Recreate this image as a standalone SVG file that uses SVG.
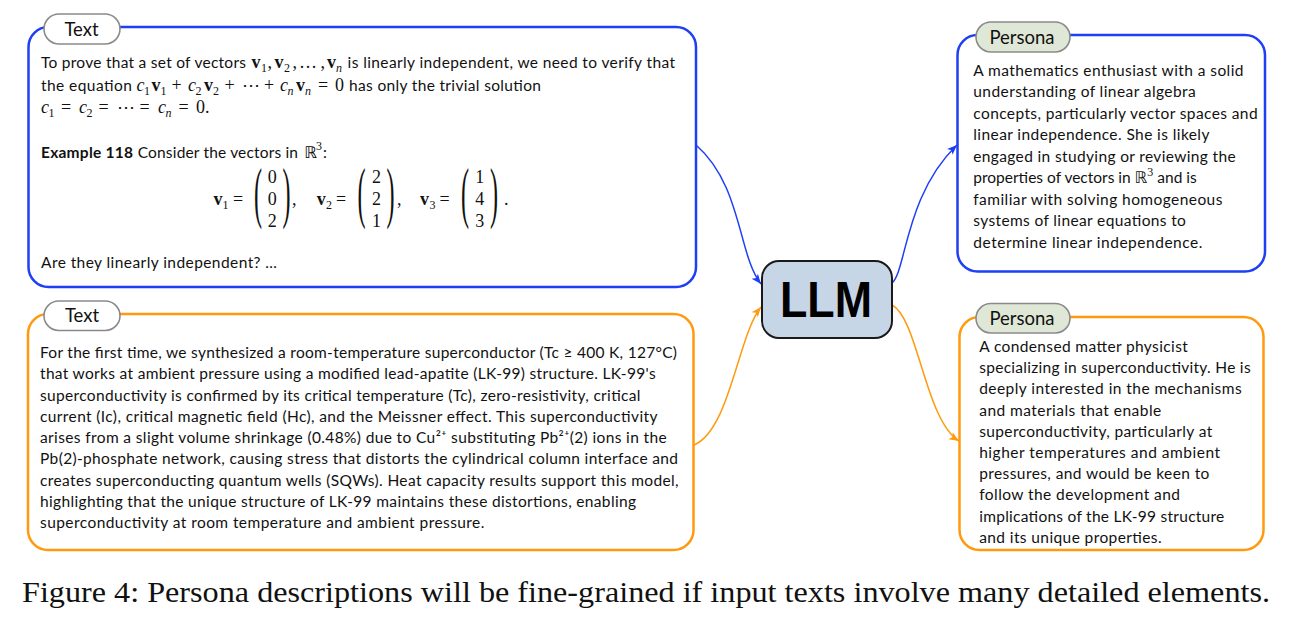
<svg xmlns="http://www.w3.org/2000/svg" width="1294" height="618" viewBox="0 0 1294 618">
<style>
.t{font-family:Lato,"Open Sans","DejaVu Sans",sans-serif;font-size:15.5px;fill:#111}
.tb{font-weight:bold}
.pl{font-family:Lato,"Open Sans",sans-serif;font-size:18.5px;fill:#111;text-anchor:middle}
.m{font-family:"Liberation Serif","DejaVu Serif",serif;font-size:18px;fill:#111}
.mb{font-weight:bold}
.mi{font-style:italic}
.s{font-size:12px}
.ds{font-family:"DejaVu Sans",sans-serif;font-size:16px}
.par{font-family:"Liberation Serif","DejaVu Serif",serif;font-size:22px;fill:#111}
.bbox{fill:#fff;stroke:#1f3ff5;stroke-width:2.5}
.obox{fill:#fff;stroke:#ff9a0e;stroke-width:2.5}
.tpill{fill:#fff;stroke:#8a8a8a;stroke-width:1.6}
.ppill{fill:#dfe8d6;stroke:#8a8a8a;stroke-width:1.6}
.cb{fill:none;stroke:#1f3ff5;stroke-width:1.5}
.co{fill:none;stroke:#ff9a0e;stroke-width:1.5}
</style>
<defs>
<marker id="ab" markerUnits="userSpaceOnUse" markerWidth="11" markerHeight="10" refX="10" refY="5" orient="auto"><path d="M0,1 L10,5 L0,9 L2.5,5 z" fill="#1f3ff5"/></marker>
<marker id="ao" markerUnits="userSpaceOnUse" markerWidth="11" markerHeight="10" refX="10" refY="5" orient="auto"><path d="M0,1 L10,5 L0,9 L2.5,5 z" fill="#ff9a0e"/></marker>
</defs>
<rect width="1294" height="618" fill="#fff"/>

<g id="connectors">
<path class="cb" d="M696,145 C742,185 738,255 761,284" marker-end="url(#ab)"/>
<path class="co" d="M694,445 C730,430 738,335 761,307" marker-end="url(#ao)"/>
<path class="cb" d="M892,283 C906,272 905,195 957,145" marker-end="url(#ab)"/>
<path class="co" d="M892,305 C918,318 925,420 959,441" marker-end="url(#ao)"/>
</g>

<g id="text1">
<rect class="bbox" x="28.5" y="27" width="667.5" height="260" rx="20"/>
<rect class="tpill" x="44" y="14" width="76" height="30" rx="15"/>
<text class="pl" x="81.5" y="36">Text</text>
<text class="t" x="41" y="68" textLength="205">To prove that a set of vectors</text>
<text class="m" y="68"><tspan class="mb" x="251.6">v</tspan><tspan class="s" x="261" y="72">1</tspan><tspan x="267.5" y="68">,</tspan><tspan class="mb" x="274.6">v</tspan><tspan class="s" x="284" y="72">2</tspan><tspan x="292.5" y="68">,</tspan><tspan x="299">…</tspan><tspan x="320.5">,</tspan><tspan class="mb" x="327">v</tspan><tspan class="s mi" x="336" y="72">n</tspan></text>
<text class="t" x="347.6" y="68" textLength="327.4">is linearly independent, we need to verify that</text>
<text class="t" x="41" y="91" textLength="90.8">the equation</text>
<text class="m" y="91"><tspan class="mi" x="136.4">c</tspan><tspan class="s" x="144" y="95">1</tspan><tspan class="mb" x="151.5" y="91">v</tspan><tspan class="s" x="160.5" y="95">1</tspan><tspan x="171.5" y="91">+</tspan><tspan class="mi" x="188">c</tspan><tspan class="s" x="195.5" y="95">2</tspan><tspan class="mb" x="204" y="91">v</tspan><tspan class="s" x="213" y="95">2</tspan><tspan x="224.5" y="91">+</tspan><tspan x="242">⋯</tspan><tspan x="264">+</tspan><tspan class="mi" x="280">c</tspan><tspan class="s mi" x="287.5" y="95">n</tspan><tspan class="mb" x="296" y="91">v</tspan><tspan class="s mi" x="305" y="95">n</tspan><tspan x="318" y="91">=</tspan><tspan x="335">0</tspan></text>
<text class="t" x="349" y="91" textLength="192">has only the trivial solution</text>
<text class="m" y="113"><tspan class="mi" x="41">c</tspan><tspan class="s" x="48.5" y="117">1</tspan><tspan x="61" y="113">=</tspan><tspan class="mi" x="79">c</tspan><tspan class="s" x="86.5" y="117">2</tspan><tspan x="98.5" y="113">=</tspan><tspan x="117">⋯</tspan><tspan x="139.5">=</tspan><tspan class="mi" x="158">c</tspan><tspan class="s mi" x="165.5" y="117">n</tspan><tspan x="178.5" y="113">=</tspan><tspan x="196">0.</tspan></text>
<text class="t tb" x="41" y="158" textLength="92">Example 118</text>
<text class="t" x="137.7" y="158" textLength="160.3">Consider the vectors in</text>
<text class="ds" x="304.5" y="158">ℝ</text>
<text class="m s" x="316" y="150">3</text>
<text class="t" x="323" y="158">:</text>
<text class="m" y="205"><tspan class="mb" x="213.5">v</tspan><tspan class="s" x="222.5" y="209">1</tspan><tspan x="233" y="205">=</tspan><tspan x="292">,</tspan><tspan class="mb" x="316.8">v</tspan><tspan class="s" x="326" y="209">2</tspan><tspan x="336" y="205">=</tspan><tspan x="397">,</tspan><tspan class="mb" x="420">v</tspan><tspan class="s" x="429.5" y="209">3</tspan><tspan x="439.5" y="205">=</tspan><tspan x="504">.</tspan></text>
<text class="m" text-anchor="middle"><tspan x="272.3" y="183">0</tspan><tspan x="272.3" y="205">0</tspan><tspan x="272.3" y="227">2</tspan><tspan x="376.5" y="183">2</tspan><tspan x="376.5" y="205">2</tspan><tspan x="376.5" y="227">1</tspan><tspan x="479.8" y="183">1</tspan><tspan x="479.8" y="205">4</tspan><tspan x="479.8" y="227">3</tspan></text>
<text class="par" transform="translate(254,198) scale(1.1,3.05)" y="5.5">(</text>
<text class="par" transform="translate(282.5,198) scale(1.1,3.05)" y="5.5">)</text>
<text class="par" transform="translate(357.5,198) scale(1.1,3.05)" y="5.5">(</text>
<text class="par" transform="translate(386.5,198) scale(1.1,3.05)" y="5.5">)</text>
<text class="par" transform="translate(461,198) scale(1.1,3.05)" y="5.5">(</text>
<text class="par" transform="translate(490,198) scale(1.1,3.05)" y="5.5">)</text>
<text class="t" x="41" y="268" textLength="236">Are they linearly independent? …</text>
</g>

<g id="text2">
<rect class="obox" x="28" y="314" width="665.5" height="236" rx="20"/>
<rect class="tpill" x="44" y="301" width="76" height="29.5" rx="14.75"/>
<text class="pl" x="82" y="322">Text</text>
<text class="t" x="40" y="358" textLength="637">For the first time, we synthesized a room-temperature superconductor (Tc ≥ 400 K, 127°C)</text>
<text class="t" x="40" y="379.25" textLength="615.6">that works at ambient pressure using a modified lead-apatite (LK-99) structure. LK-99's</text>
<text class="t" x="40" y="400.5" textLength="600.5">superconductivity is confirmed by its critical temperature (Tc), zero-resistivity, critical</text>
<text class="t" x="40" y="421.75" textLength="617.5">current (Ic), critical magnetic field (Hc), and the Meissner effect. This superconductivity</text>
<text class="t" x="40" y="443" textLength="626.7">arises from a slight volume shrinkage (0.48%) due to Cu²⁺ substituting Pb²⁺(2) ions in the</text>
<text class="t" x="40" y="464.25" textLength="638">Pb(2)-phosphate network, causing stress that distorts the cylindrical column interface and</text>
<text class="t" x="40" y="485.5" textLength="638.6">creates superconducting quantum wells (SQWs). Heat capacity results support this model,</text>
<text class="t" x="40" y="506.75" textLength="596">highlighting that the unique structure of LK-99 maintains these distortions, enabling</text>
<text class="t" x="40" y="528" textLength="444.4">superconductivity at room temperature and ambient pressure.</text>
</g>

<g id="llm">
<rect x="762" y="261" width="130" height="77" rx="17" fill="#c6d6e6" stroke="#1a1a1a" stroke-width="2"/>
<text x="780" y="317.3" textLength="92" lengthAdjust="spacingAndGlyphs" style="font-family:'Liberation Sans',Arial,sans-serif;font-weight:bold;font-size:50px;fill:#000">LLM</text>
</g>

<g id="persona1">
<rect class="bbox" x="957.5" y="35" width="307.5" height="236.5" rx="20"/>
<rect class="ppill" x="976" y="22" width="94" height="30" rx="15"/>
<text class="pl" x="1022" y="44">Persona</text>
<text class="t" x="973.3" y="75.5" textLength="270.2">A mathematics enthusiast with a solid</text>
<text class="t" x="973.3" y="97" textLength="222.4">understanding of linear algebra</text>
<text class="t" x="973.3" y="118.5" textLength="284.3">concepts, particularly vector spaces and</text>
<text class="t" x="973.3" y="140" textLength="236.1">linear independence. She is likely</text>
<text class="t" x="973.3" y="161.5" textLength="262.4">engaged in studying or reviewing the</text>
<text class="t" x="973.3" y="183">properties of vectors in <tspan style="font-family:'DejaVu Sans',sans-serif;font-size:16px">ℝ</tspan><tspan style="font-family:'Liberation Serif',serif;font-size:12px" dy="-7">3</tspan><tspan dy="7"> and is</tspan></text>
<text class="t" x="973.3" y="204.5" textLength="249.1">familiar with solving homogeneous</text>
<text class="t" x="973.3" y="226" textLength="212.6">systems of linear equations to</text>
<text class="t" x="973.3" y="247.5" textLength="229.1">determine linear independence.</text>
</g>

<g id="persona2">
<rect class="obox" x="959.5" y="317" width="304" height="233" rx="20"/>
<rect class="ppill" x="976" y="303.5" width="94" height="29.5" rx="14.75"/>
<text class="pl" x="1022" y="325">Persona</text>
<text class="t" x="979.2" y="352" textLength="208.6">A condensed matter physicist</text>
<text class="t" x="979.2" y="373.2" textLength="271.4">specializing in superconductivity. He is</text>
<text class="t" x="979.2" y="394.4" textLength="262.4">deeply interested in the mechanisms</text>
<text class="t" x="979.2" y="415.6" textLength="182">and materials that enable</text>
<text class="t" x="979.2" y="436.8" textLength="233">superconductivity, particularly at</text>
<text class="t" x="979.2" y="458" textLength="240.8">higher temperatures and ambient</text>
<text class="t" x="979.2" y="479.2" textLength="230.2">pressures, and would be keen to</text>
<text class="t" x="979.2" y="500.4" textLength="200.8">follow the development and</text>
<text class="t" x="979.2" y="521.6" textLength="245.1">implications of the LK-99 structure</text>
<text class="t" x="979.2" y="542.8" textLength="182.4">and its unique properties.</text>
</g>

<text x="22" y="602" textLength="1248" lengthAdjust="spacingAndGlyphs" style="font-family:'Liberation Serif','DejaVu Serif',serif;font-size:28.5px;fill:#111">Figure 4: Persona descriptions will be fine-grained if input texts involve many detailed elements.</text>
</svg>
